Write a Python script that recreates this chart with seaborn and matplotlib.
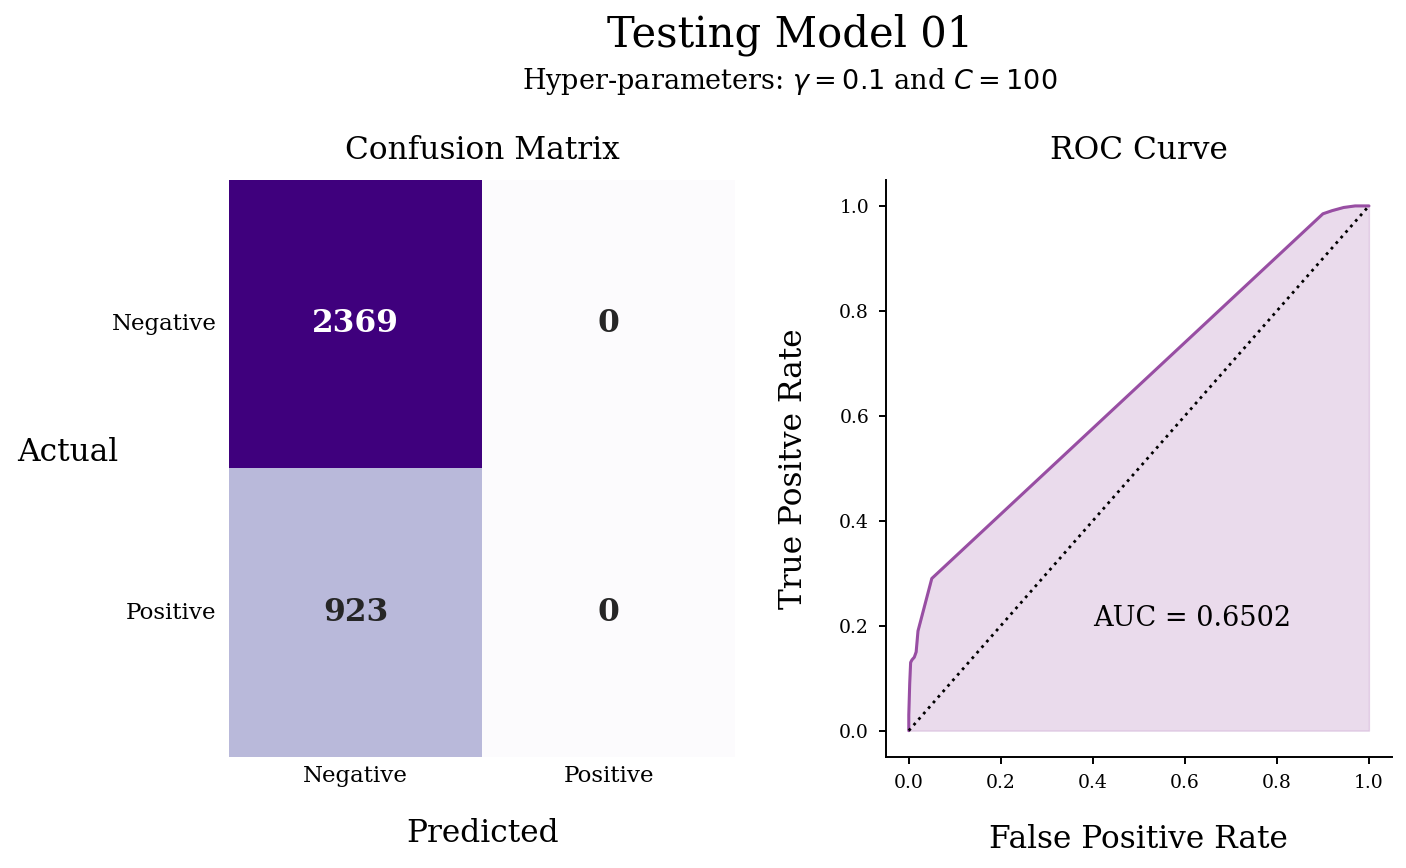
import numpy as np
import pandas as pd
from matplotlib import pyplot as plt
import seaborn as sns

# confusion matrix counts
labels = ["Negative", "Positive"]
cm_values = [[2369, 0], [923, 0]]

# roc curve
fpr = [0.0, 0.0, 0.001, 0.002, 0.004, 0.007, 0.012, 0.016, 0.020, 0.026, 0.050,
       0.900, 0.920, 0.945, 0.970, 1.0]
tpr = [0.0, 0.03, 0.06, 0.09, 0.13, 0.135, 0.14, 0.15, 0.19, 0.21, 0.29,
       0.985, 0.991, 0.997, 1.0, 1.0]
auc = 0.6502

sns.set_style("ticks")
plt.rcParams["font.family"] = ["DejaVu Serif"]
plt.rcParams["text.color"] = "black"
plt.rcParams["axes.labelcolor"] = "black"
plt.rcParams["xtick.color"] = "black"
plt.rcParams["ytick.color"] = "black"
plt.rcParams["axes.edgecolor"] = "black"

fig = plt.figure(figsize=(14.06, 8.68), dpi=100)
ax1 = fig.add_axes([0.163, 0.128, 0.36, 0.665])
ax2 = fig.add_axes([0.630, 0.128, 0.36, 0.665])

df_cm = pd.DataFrame(cm_values, index=labels, columns=labels)
sns.heatmap(df_cm, annot=True, fmt="d", cmap="Purples", cbar=False, ax=ax1,
            annot_kws={"fontsize": 22.5, "fontweight": "bold"})
ax1.set_title("Confusion Matrix", fontsize=22.5, pad=15)
ax1.set_xlabel("Predicted", fontsize=22.5, labelpad=22)
ax1.set_ylabel("Actual", fontsize=22.5, rotation=0)
ax1.yaxis.set_label_coords(-0.32, 0.5)
ax1.tick_params(axis="both", length=0, labelsize=16.5)
ax1.tick_params(axis="y", rotation=0, pad=9)
ax1.tick_params(axis="x", pad=6)

df_roc = pd.DataFrame({"fpr": fpr, "tpr": tpr})
sns.lineplot(data=df_roc, x="fpr", y="tpr", color="#984ea3", lw=2.2,
             estimator=None, sort=False, ax=ax2)
ax2.fill_between(fpr, tpr, color="#984ea3", alpha=0.2)
sns.lineplot(x=[0, 1], y=[0, 1], color="black", ls=":", lw=2, ax=ax2)
ax2.text(0.4, 0.2, f"AUC = {auc:.4f}", fontsize=19.5)
ax2.set_title("ROC Curve", fontsize=22.5, pad=15)
ax2.set_xlabel("False Positive Rate", fontsize=22.5, labelpad=23)
ax2.set_ylabel("True Positve Rate", fontsize=22.5, labelpad=22)
ax2.tick_params(labelsize=13.5, length=5, width=1.4, pad=7)
for sp in ax2.spines.values():
    sp.set_linewidth(1.4)
sns.despine(ax=ax2)

fig.suptitle("Testing Model 01", fontsize=30, x=0.562, y=0.984)
fig.text(0.562, 0.898, r"Hyper-parameters: $\gamma = 0.1$ and $C = 100$",
         ha="center", fontsize=19.5)

fig.savefig("out.png", dpi=100)
